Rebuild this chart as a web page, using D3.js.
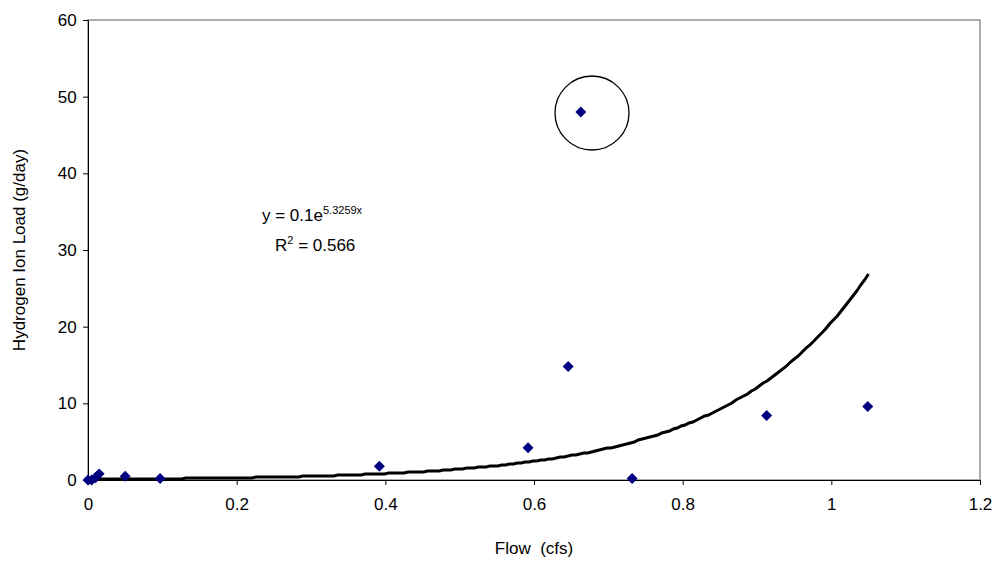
<!DOCTYPE html>
<html><head><meta charset="utf-8">
<script src="https://cdn.jsdelivr.net/npm/d3@7"></script>
<style>body{margin:0;background:#fff}text{font-family:"Liberation Sans",Arial,sans-serif;fill:#000}</style>
</head><body>
<svg id="chart" width="1000" height="569"></svg>
<script>
var flow = [0, 0.005, 0.01, 0.015, 0.05, 0.097, 0.392, 0.592, 0.646, 0.663, 0.732, 0.913, 1.049];
var load = [0, 0, 0.3, 0.8, 0.5, 0.2, 1.8, 4.2, 14.8, 48, 0.2, 8.4, 9.6];
var xTicks = [0, 0.2, 0.4, 0.6, 0.8, 1, 1.2];
var yTicks = [0, 10, 20, 30, 40, 50, 60];
// trendline from the equation printed on the chart
var fitA = 0.1, fitB = 5.3259, fitMax = 1.05;

var svg = d3.select("#chart");
var x = d3.scaleLinear().domain([0, 1.2]).range([88, 980]);
var y = d3.scaleLinear().domain([0, 60]).range([480, 20]);

svg.append("rect").attr("x", 88).attr("y", 20).attr("width", 892).attr("height", 460)
    .attr("fill", "none").attr("stroke", "#808080").attr("stroke-width", 1.3);

var xa = svg.append("g").attr("transform", "translate(0,480)")
    .call(d3.axisBottom(x).tickValues(xTicks).tickSize(5).tickFormat(d3.format("")));
var ya = svg.append("g").attr("transform", "translate(88,0)")
    .call(d3.axisLeft(y).tickValues(yTicks).tickSize(5));
[xa, ya].forEach(function(a){
    a.selectAll("path,line").attr("stroke", "#000");
    a.selectAll("text").style("font-size", "17px").style("font-family", "Liberation Sans, Arial");
});
xa.selectAll("text").attr("dy", "1.3em");
ya.selectAll("text").attr("dx", "-0.2em");

// stepped trendline
var pts = d3.range(0, 201).map(function(i){
    var fx = fitMax * i / 200;
    return [x(fx), Math.round(y(fitA * Math.exp(fitB * fx)))];
});
svg.append("path").attr("d", d3.line()(pts)).attr("fill", "none")
    .attr("stroke", "#000").attr("stroke-width", 3);

svg.selectAll("path.pt").data(flow).enter().append("path")
    .attr("class", "pt")
    .attr("d", d3.symbol().type(d3.symbolSquare).size(60))
    .attr("transform", function(d, i){ return "translate(" + x(d) + "," + y(load[i]) + ") rotate(45)"; })
    .attr("fill", "#000080");

svg.append("circle").attr("cx", 592).attr("cy", 113).attr("r", 37)
    .attr("fill", "none").attr("stroke", "#000").attr("stroke-width", 1.3);

var eq = svg.append("text").attr("x", 262).attr("y", 221).style("font-size", "17px");
eq.append("tspan").text("y = 0.1e");
eq.append("tspan").attr("dy", -7).style("font-size", "11px").text("5.3259x");
var r2 = svg.append("text").attr("x", 275).attr("y", 251).style("font-size", "17px");
r2.append("tspan").text("R");
r2.append("tspan").attr("dy", -7).style("font-size", "11px").text("2");
r2.append("tspan").attr("dy", 7).text(" = 0.566");

svg.append("text").attr("x", 534).attr("y", 554).attr("text-anchor", "middle")
    .style("font-size", "17px").style("white-space", "pre").text("Flow  (cfs)");
svg.append("text").attr("transform", "translate(25,250) rotate(-90)").attr("text-anchor", "middle")
    .style("font-size", "17px").text("Hydrogen Ion Load (g/day)");
</script>
</body></html>
